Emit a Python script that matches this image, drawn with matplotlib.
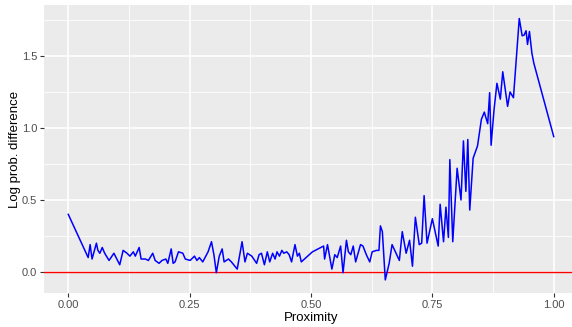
import numpy as np
import matplotlib
matplotlib.use('Agg')
import matplotlib.pyplot as plt
from matplotlib.ticker import MultipleLocator

plt.rcParams['font.family'] = ['Liberation Sans', 'DejaVu Sans']

# =============================================================================
# data
# =============================================================================
proximity = [0.000, 0.041, 0.045, 0.049, 0.054, 0.058, 0.061, 0.065, 0.070, 0.075,
             0.084, 0.094, 0.106, 0.113, 0.121, 0.127, 0.134, 0.138, 0.146, 0.150,
             0.159, 0.165, 0.174, 0.179, 0.187, 0.193, 0.201, 0.205, 0.212, 0.216,
             0.220, 0.227, 0.236, 0.241, 0.251, 0.260, 0.265, 0.270, 0.277, 0.288,
             0.295, 0.300, 0.305, 0.311, 0.317, 0.321, 0.330, 0.336, 0.348, 0.358,
             0.364, 0.369, 0.378, 0.388, 0.393, 0.398, 0.404, 0.410, 0.415, 0.421,
             0.426, 0.430, 0.435, 0.440, 0.444, 0.450, 0.455, 0.460, 0.467, 0.472,
             0.476, 0.480, 0.503, 0.526, 0.528, 0.534, 0.543, 0.549, 0.554, 0.561,
             0.566, 0.573, 0.577, 0.582, 0.587, 0.592, 0.597, 0.602, 0.607, 0.614,
             0.621, 0.626, 0.635, 0.640, 0.643, 0.647, 0.653, 0.661, 0.667, 0.682,
             0.688, 0.696, 0.703, 0.709, 0.715, 0.723, 0.728, 0.733, 0.739, 0.750,
             0.762, 0.766, 0.773, 0.778, 0.783, 0.786, 0.792, 0.801, 0.809, 0.814,
             0.819, 0.823, 0.827, 0.834, 0.843, 0.851, 0.857, 0.864, 0.868, 0.871,
             0.877, 0.883, 0.890, 0.895, 0.905, 0.910, 0.917, 0.929, 0.935, 0.939,
             0.943, 0.946, 0.950, 0.955, 0.959, 1.000]
log_prob_diff = [0.40, 0.10, 0.19, 0.09, 0.15, 0.20, 0.15, 0.13, 0.17, 0.13,
                 0.08, 0.13, 0.05, 0.15, 0.13, 0.11, 0.14, 0.11, 0.17, 0.09,
                 0.09, 0.08, 0.13, 0.08, 0.06, 0.08, 0.09, 0.06, 0.16, 0.06,
                 0.07, 0.14, 0.13, 0.09, 0.08, 0.11, 0.08, 0.10, 0.07, 0.14,
                 0.21, 0.12, -0.005, 0.11, 0.16, 0.07, 0.09, 0.07, 0.02, 0.21,
                 0.07, 0.13, 0.11, 0.06, 0.12, 0.13, 0.05, 0.14, 0.07, 0.13,
                 0.09, 0.14, 0.11, 0.15, 0.13, 0.14, 0.12, 0.07, 0.19, 0.11,
                 0.13, 0.07, 0.14, 0.18, 0.09, 0.19, 0.02, 0.12, 0.10, 0.18,
                 -0.005, 0.22, 0.14, 0.12, 0.18, 0.07, 0.13, 0.19, 0.18, 0.12,
                 0.07, 0.14, 0.15, 0.15, 0.32, 0.28, -0.055, 0.06, 0.19, 0.08,
                 0.28, 0.13, 0.22, 0.04, 0.38, 0.19, 0.20, 0.53, 0.20, 0.37,
                 0.18, 0.47, 0.21, 0.45, 0.24, 0.78, 0.21, 0.72, 0.50, 0.91,
                 0.56, 0.92, 0.43, 0.79, 0.875, 1.06, 1.11, 1.03, 1.245, 0.88,
                 1.125, 1.31, 1.20, 1.39, 1.15, 1.25, 1.21, 1.76, 1.64, 1.645,
                 1.675, 1.58, 1.67, 1.52, 1.45, 0.94]

x_ticks = [0.0, 0.25, 0.5, 0.75, 1.0]
x_tick_labels = ['0.00', '0.25', '0.50', '0.75', '1.00']
y_ticks = [0.0, 0.5, 1.0, 1.5]
y_tick_labels = ['0.0', '0.5', '1.0', '1.5']

# =============================================================================
# plot, ggplot theme_gray look
# =============================================================================
fig = plt.figure(figsize=(5.72, 3.27), dpi=100)
ax = fig.add_axes([44 / 572, (327 - 293) / 327, 534 / 572, 287.6 / 327])
ax.set_facecolor('#EBEBEB')
for s in ax.spines.values():
    s.set_visible(False)

ax.set_xlim(-0.05, 1.05)
ax.set_ylim(-0.146, 1.851)
ax.set_xticks(x_ticks)
ax.set_xticklabels(x_tick_labels)
ax.set_yticks(y_ticks)
ax.set_yticklabels(y_tick_labels)
ax.xaxis.set_minor_locator(MultipleLocator(0.125))
ax.yaxis.set_minor_locator(MultipleLocator(0.25))

ax.grid(which='major', color='white', lw=1.2)
ax.grid(which='minor', color='white', lw=0.6)
ax.set_axisbelow(True)
ax.tick_params(which='major', length=3, width=0.8, color='#333333',
               labelsize=8, labelcolor='#4D4D4D', pad=2)
ax.tick_params(which='minor', length=0)

ax.axhline(0, color='red', lw=1.0)
ax.plot(proximity, log_prob_diff, color='blue', lw=1.1)

ax.set_xlabel('Proximity', fontsize=9.5, color='black', labelpad=1.5)
ax.set_ylabel('Log prob. difference', fontsize=9.5, color='black', labelpad=0.5)

fig.savefig('out.png', dpi=100)
